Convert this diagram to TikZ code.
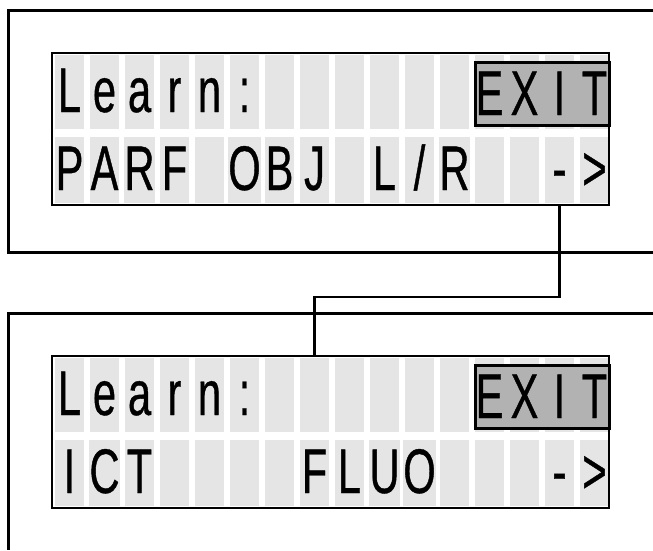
\documentclass[tikz,border=0pt]{standalone}
\usepackage{fontspec}
\newfontfamily\lcdfont[FakeStretch=0.66, FakeBold=0.6]{Liberation Sans}
\begin{document}
\begin{tikzpicture}[
  x=1pt,
  y=-1pt,
  frame/.style={line width=3pt},
  lcd/.style={draw, line width=2.5pt, minimum width=557pt, minimum height=152pt, inner sep=0pt},
  glyph/.style={inner sep=0pt, minimum width=29pt, text height=45pt, text depth=5pt, font=\lcdfont\fontsize{63}{63}\selectfont},
  rowone/.style={glyph, fill=gray!20, minimum height=74pt},
  rowtwo/.style={glyph, fill=gray!20, minimum height=66pt},
  exitbox/.style={draw, fill=gray!60, line width=3pt},
  wire/.style={line width=2.5pt}
]
\useasboundingbox (0,0) rectangle (653,550);

% outer frames
\draw[frame] (653,10) -| (8,252) -- (653,252);
\draw[frame] (653,313) -| (8,550);

% first display
\foreach \c [count=\i] in {L,e,a,r,n,:,{},{},{},{},{},{},{},{},{},{}} {
  \node[rowone] (a1-\i) at ({34.5+35*\i},92) {\c};
}
\foreach \c [count=\i] in {P,A,R,F,{},O,B,J,{},L,/,R,{},{},-,>} {
  \node[rowtwo] (a2-\i) at ({34.5+35*\i},170) {\c};
}
\draw[exitbox] (475,62) rectangle (609,125);
\foreach \c [count=\i from 13] in {E,X,I,T} {
  \node[glyph, minimum height=74pt] (ax-\i) at ({34.5+35*\i},95) {\c};
}
\node[lcd] (lcdA) at (330.5,129) {};

% second display
\foreach \c [count=\i] in {L,e,a,r,n,:,{},{},{},{},{},{},{},{},{},{}} {
  \node[rowone] (b1-\i) at ({34.5+35*\i},395) {\c};
}
\foreach \c [count=\i] in {I,C,T,{},{},{},{},F,L,U,O,{},{},{},-,>} {
  \node[rowtwo] (b2-\i) at ({34.5+35*\i},473) {\c};
}
\draw[exitbox] (475,365) rectangle (609,428);
\foreach \c [count=\i from 13] in {E,X,I,T} {
  \node[glyph, minimum height=74pt] (bx-\i) at ({34.5+35*\i},398) {\c};
}
\node[lcd] (lcdB) at (330.5,432) {};

% link between the two displays
\coordinate (jog) at (0,297);
\draw[wire] (a2-15 |- lcdA.south) |- (jog -| b1-8) -- (b1-8 |- lcdB.north);
\end{tikzpicture}
\end{document}
